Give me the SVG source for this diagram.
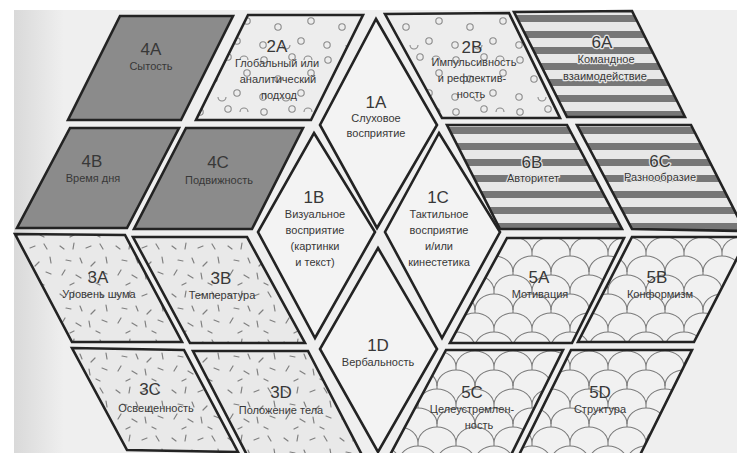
<svg xmlns="http://www.w3.org/2000/svg" width="737" height="453" viewBox="0 0 737 453">
<style>
.sh{stroke:#232323;stroke-width:2.6;stroke-linejoin:miter}
.dark{fill:#8b8b8b}
.dots{fill:url(#pDots)}
.dash{fill:url(#pDash)}
.str{fill:url(#pStripe)}
.scl{fill:url(#pScale)}
.plain{fill:#f3f3f3}
text{font-family:"Liberation Sans",Arial,sans-serif;text-anchor:middle;fill:#383838}
.l{font-size:17px}
.d{font-size:11px}
.halo{stroke:#e6e6e6;stroke-width:2.4;paint-order:stroke;stroke-linejoin:round}
</style>
<defs>
<linearGradient id="gLeft" x1="0" y1="0" x2="1" y2="0">
<stop offset="0" stop-color="#d9d9d9"/>
<stop offset="1" stop-color="#efefef"/>
</linearGradient>
<pattern id="pDots" patternUnits="userSpaceOnUse" width="64" height="52">
<rect width="64" height="52" fill="#ededed"/>
<g fill="none" stroke="#8a8a8a" stroke-width="1.1">
<circle cx="8" cy="8" r="3.2"/>
<circle cx="36" cy="5" r="3.2"/>
<circle cx="55" cy="21" r="3.2"/>
<circle cx="22" cy="27" r="3.2"/>
<circle cx="45" cy="41" r="3.2"/>
<circle cx="7" cy="45" r="3.2"/>
<path d="M26,45 a4,4 0 0 0 8,0"/>
<path d="M48,8 a4,4 0 0 1 8,0"/>
</g>
</pattern>
<pattern id="pDash" patternUnits="userSpaceOnUse" width="56" height="48">
<rect width="56" height="48" fill="#e9e9e9"/>
<g stroke="#808080" stroke-width="1.2" stroke-linecap="round">
<path d="M4,6 l4,3"/><path d="M18,3 l-1,6"/><path d="M30,8 l5,-2"/><path d="M44,4 l3,5"/>
<path d="M10,20 l5,1"/><path d="M24,18 l2,5"/><path d="M39,22 l-4,4"/><path d="M50,17 l1,6"/>
<path d="M6,35 l3,-5"/><path d="M20,35 l5,3"/><path d="M34,39 l-1,-6"/><path d="M46,32 l5,2"/>
<path d="M14,45 l4,-2"/><path d="M40,43 l4,2"/>
</g>
</pattern>
<pattern id="pStripe" patternUnits="userSpaceOnUse" width="8" height="16" patternTransform="translate(0,15)">
<rect width="8" height="16" fill="#e8e8e8"/>
<rect width="8" height="7" fill="#777777"/>
</pattern>
<pattern id="pScale" patternUnits="userSpaceOnUse" width="38" height="38" patternTransform="translate(0,6)">
<rect width="38" height="38" fill="#f1f1f1"/>
<g fill="none" stroke="#7a7a7a" stroke-width="1.1">
<path d="M0,19 A19,16 0 0 1 38,19"/>
<path d="M-19,38 A19,16 0 0 1 19,38"/>
<path d="M19,38 A19,16 0 0 1 57,38"/>
<path d="M19,0 V3 M0,19 V22 M38,19 V22 M16,-3 L19,0 L22,-3"/>
</g>
</pattern>
</defs>
<rect width="737" height="453" fill="#ffffff"/>
<rect x="14" y="10" width="723" height="443" fill="#efefef"/>
<rect x="14" y="10" width="50" height="443" fill="url(#gLeft)"/>

<g id="n4A"><polygon class="sh dark" points="120,16 233,16 181,120 68,120"/>
<text class="l" x="151" y="55">4A</text><text class="d" x="151" y="70">Сытость</text></g>
<g id="n2A"><polygon class="sh dots" points="248,15 363,15 311,120 196,120"/>
<text class="l" x="277" y="52">2A</text><text class="d" x="277" y="67">Глобальный или</text><text class="d" x="278" y="83">аналитический</text><text class="d" x="279" y="99">подход</text></g>
<g id="n4B"><polygon class="sh dark" points="70,128 179,128 127,228 17,228"/>
<text class="l" x="92" y="167">4B</text><text class="d" x="93" y="182">Время дня</text></g>
<g id="n4C"><polygon class="sh dark" points="186,128 303,128 252,229 134,229"/>
<text class="l" x="218" y="168">4C</text><text class="d" x="219" y="184">Подвижность</text></g>

<g id="n3A"><polygon class="sh dash" points="15,234 125,235 182,342 72,342"/>
<text class="l" x="98" y="283">3A</text><text class="d" x="99" y="298">Уровень шума</text></g>
<g id="n3B"><polygon class="sh dash" points="133,237 247,237 305,343 190,343"/>
<text class="l" x="221" y="284">3B</text><text class="d" x="222" y="299">Температура</text></g>
<g id="n3C"><polygon class="sh dash" points="72,348 184,350 238,452 127,450"/>
<text class="l" x="150" y="395">3C</text><text class="d" x="156" y="412">Освещенность</text></g>
<g id="n3D"><polygon class="sh dash" points="193,351 308,351 362,455 247,455"/>
<text class="l" x="281" y="398">3D</text><text class="d" x="281" y="414">Положение тела</text></g>

<g id="n1A"><polygon class="sh plain" points="376,19 437,125 377,228 320,125"/>
<text class="l" x="376" y="108">1A</text><text class="d" x="376" y="122">Слуховое</text><text class="d" x="376" y="137">восприятие</text></g>
<g id="n1B"><polygon class="sh plain" points="314,133 375,232 315,338 258,232"/>
<text class="l" x="314" y="203">1B</text><text class="d" x="315" y="218">Визуальное</text><text class="d" x="315" y="234">восприятие</text><text class="d" x="315" y="250">(картинки</text><text class="d" x="315" y="266">и текст)</text></g>
<g id="n1C"><polygon class="sh plain" points="439,133 500,232 442,338 385,232"/>
<text class="l" x="438" y="203">1C</text><text class="d" x="439" y="218">Тактильное</text><text class="d" x="439" y="234">восприятие</text><text class="d" x="439" y="250">и/или</text><text class="d" x="439" y="266">кинестетика</text></g>
<g id="n1D"><polygon class="sh plain" points="378,248 437,349 378,452 320,349"/>
<text class="l" x="378" y="351">1D</text><text class="d" x="378" y="366">Вербальность</text></g>

<g id="n2B"><polygon class="sh dots" points="385,14 509,13 560,118 442,118"/>
<text class="l" x="472" y="53">2B</text><text class="d" x="474" y="66">Импульсивность</text><text class="d" x="472" y="82">и рефлектив-</text><text class="d" x="471" y="98">ность</text></g>
<g id="n6A"><polygon class="sh str" points="514,12 632,11 685,117 567,117"/>
<text class="l halo" x="602" y="48">6A</text><text class="d halo" x="606" y="63">Командное</text><text class="d halo" x="605" y="80">взаимодействие</text></g>
<g id="n6B"><polygon class="sh str" points="447,125 567,125 622,229 500,229"/>
<text class="l halo" x="532" y="168">6B</text><text class="d halo" x="533" y="182">Авторитет</text></g>
<g id="n6C"><polygon class="sh str" points="577,125 691,125 745,231 632,229"/>
<text class="l halo" x="660" y="167">6C</text><text class="d halo" x="660" y="181">Разнообразие</text></g>

<g id="n5A"><polygon class="sh scl" points="507,238 624,238 572,343 450,343"/>
<text class="l" x="539" y="283">5A</text><text class="d" x="540" y="298">Мотивация</text></g>
<g id="n5B"><polygon class="sh scl" points="632,237 748,237 694,342 578,342"/>
<text class="l" x="657" y="283">5B</text><text class="d" x="660" y="298">Конформизм</text></g>
<g id="n5C"><polygon class="sh scl" points="446,350 563,350 511,455 390,455"/>
<text class="l" x="472" y="398">5C</text><text class="d" x="472" y="413">Целеустремлен-</text><text class="d" x="479" y="429">ность</text></g>
<g id="n5D"><polygon class="sh scl" points="571,350 692,350 640,455 519,455"/>
<text class="l" x="600" y="398">5D</text><text class="d" x="600" y="413">Структура</text></g>

<g id="connectors"></g>
</svg>
